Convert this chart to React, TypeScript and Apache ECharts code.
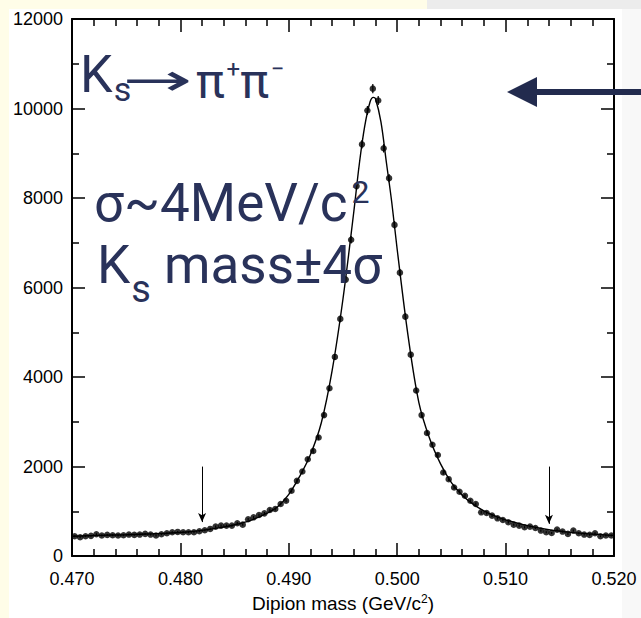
import React, { useEffect, useRef } from 'react';
import * as echarts from 'echarts';

// Histogram bin centres (GeV/c^2)
const massBins = [
  0.47025, 0.47075, 0.47125, 0.47175, 0.47225, 0.47275, 0.47325, 0.47375, 0.47425, 0.47475,
  0.47525, 0.47575, 0.47625, 0.47675, 0.47725, 0.47775, 0.47825, 0.47875, 0.47925, 0.47975,
  0.48025, 0.48075, 0.48125, 0.48175, 0.48225, 0.48275, 0.48325, 0.48375, 0.48425, 0.48475,
  0.48525, 0.48575, 0.48625, 0.48675, 0.48725, 0.48775, 0.48825, 0.48875, 0.48925, 0.48975,
  0.49025, 0.49075, 0.49125, 0.49175, 0.49225, 0.49275, 0.49325, 0.49375, 0.49425, 0.49475,
  0.49525, 0.49575, 0.49625, 0.49675, 0.49725, 0.49775, 0.49825, 0.49875, 0.49925, 0.49975,
  0.50025, 0.50075, 0.50125, 0.50175, 0.50225, 0.50275, 0.50325, 0.50375, 0.50425, 0.50475,
  0.50525, 0.50575, 0.50625, 0.50675, 0.50725, 0.50775, 0.50825, 0.50875, 0.50925, 0.50975,
  0.51025, 0.51075, 0.51125, 0.51175, 0.51225, 0.51275, 0.51325, 0.51375, 0.51425, 0.51475,
  0.51525, 0.51575, 0.51625, 0.51675, 0.51725, 0.51775, 0.51825, 0.51875, 0.51925, 0.51975,
];

// Entries per bin
const counts = [
  444, 422, 444, 452, 489, 459, 474, 467, 459, 467,
  481, 474, 481, 496, 481, 459, 489, 511, 533, 540,
  533, 533, 533, 555, 578, 607, 659, 681, 681, 681,
  733, 703, 822, 866, 918, 955, 1029, 1052, 1163, 1237,
  1459, 1681, 1889, 2163, 2348, 2650, 3150, 3750, 4450, 5300,
  6178, 7067, 8267, 9200, 9956, 10444, 10178, 9111, 8444, 7400,
  6333, 5350, 4500, 3700, 3150, 2750, 2489, 2259, 1867, 1719,
  1533, 1437, 1348, 1237, 1163, 978, 963, 904, 844, 807,
  755, 703, 681, 644, 659, 629, 570, 533, 518, 592,
  548, 496, 570, 511, 481, 474, 511, 444, 459, 459,
];

// Fit curve
const fitMass = [
  0.470, 0.4725, 0.475, 0.4775, 0.480, 0.482, 0.4835, 0.485, 0.4865, 0.488,
  0.489, 0.490, 0.491, 0.492, 0.493, 0.494, 0.495, 0.496, 0.4965, 0.497,
  0.4975, 0.4978, 0.498, 0.4985, 0.499, 0.4995, 0.500, 0.501, 0.502, 0.503,
  0.504, 0.505, 0.506, 0.507, 0.508, 0.509, 0.510, 0.512, 0.514, 0.516,
  0.518, 0.520,
];
const fitCounts = [
  445, 462, 478, 498, 528, 575, 630, 700, 800, 960,
  1110, 1380, 1780, 2270, 2980, 4150, 5750, 7700, 8750, 9600,
  10150, 10250, 10220, 9700, 8800, 7900, 6850, 4925, 3430, 2620,
  2060, 1640, 1360, 1160, 1010, 900, 810, 680, 590, 530,
  490, 462,
];

// Mass window (K_s mass ± 4σ) marker arrows
const windowMass = [0.482, 0.514];
const windowArrowTop = 2000;
const windowArrowTip = [760, 720];

// Axis ticks
const xMin = 0.47;
const xMax = 0.52;
const xStep = 0.01;
const yMin = 0;
const yMax = 12000;
const yStep = 2000;

const NAVY = '#29325a';
const AXIS_FONT = '"Liberation Sans", Arial, Helvetica, sans-serif';
const NOTE_FONT = 'Roboto, "DejaVu Sans", sans-serif';

function richNote(text: string, x: number, y: number, rich: any, extra: any = {}) {
  return {
    type: 'text',
    x,
    y,
    z: 100,
    ...extra,
    style: {
      text,
      fontFamily: NOTE_FONT,
      fill: NAVY,
      align: 'left',
      verticalAlign: 'top',
      rich,
    },
  };
}

function buildOption() {
  const tickStyle = { color: '#000', width: 1.5 };
  const baseX = {
    type: 'value' as const,
    min: xMin,
    max: xMax,
    interval: xStep,
    splitLine: { show: false },
    axisLine: { show: true, onZero: false, lineStyle: { color: '#000', width: 2 } },
    axisTick: { show: true, inside: true, length: 13, lineStyle: tickStyle },
    minorTick: { show: true, splitNumber: 5, length: 7, lineStyle: tickStyle },
    minorSplitLine: { show: false },
  };
  const baseY = {
    type: 'value' as const,
    min: yMin,
    max: yMax,
    interval: yStep,
    splitLine: { show: false },
    axisLine: { show: true, onZero: false, lineStyle: { color: '#000', width: 2 } },
    axisTick: { show: true, inside: true, length: 13, lineStyle: tickStyle },
    minorTick: { show: true, splitNumber: 2, length: 7, lineStyle: tickStyle },
    minorSplitLine: { show: false },
  };

  const tok = (fontSize: number, padTop = 0, padLeft = 0) => ({
    fontSize,
    lineHeight: fontSize,
    fontFamily: NOTE_FONT,
    color: NAVY,
    verticalAlign: 'top',
    padding: [padTop, 0, 0, padLeft],
  });

  return {
    animation: false,
    backgroundColor: '#fffde8',
    grid: { left: 72, right: 27, top: 19, bottom: 59, containLabel: false },
    xAxis: [
      {
        ...baseX,
        position: 'bottom',
        axisLabel: {
          show: true,
          margin: 14,
          fontSize: 18,
          fontFamily: AXIS_FONT,
          color: '#000',
          formatter: (v: number) => v.toFixed(3),
        },
        name: 'Dipion mass (GeV/c{sup|2})',
        nameLocation: 'middle',
        nameGap: 35,
        nameTextStyle: {
          fontSize: 19,
          fontFamily: AXIS_FONT,
          color: '#000',
          rich: {
            sup: { fontSize: 12, fontFamily: AXIS_FONT, color: '#000', verticalAlign: 'top', padding: [0, 0, 9, 0] },
          },
        },
      },
      { ...baseX, position: 'top', axisLabel: { show: false } },
    ],
    yAxis: [
      {
        ...baseY,
        position: 'left',
        axisLabel: {
          show: true,
          margin: 9,
          fontSize: 18,
          fontFamily: AXIS_FONT,
          color: '#000',
          formatter: (v: number) => String(v),
        },
      },
      { ...baseY, position: 'right', axisLabel: { show: false } },
    ],
    graphic: [
      // slide background pieces
      { type: 'rect', z: -100, shape: { x: 9, y: 9, width: 613, height: 609 }, style: { fill: '#ffffff' } },
      { type: 'rect', z: -100, shape: { x: 427, y: 0, width: 214, height: 9 }, style: { fill: '#ececec' } },
      { type: 'rect', z: -100, shape: { x: 622, y: 9, width: 19, height: 609 }, style: { fill: '#f8f8f8' } },
      // big arrow
      { type: 'rect', z: 100, shape: { x: 534, y: 89, width: 107, height: 6 }, style: { fill: '#222b4e' } },
      { type: 'polygon', z: 100, shape: { points: [[507, 92], [537, 77], [537, 107]] }, style: { fill: '#222b4e' } },
      // K_s -> pi+ pi-
      richNote('{b|K}{s|s}', 80, 48, { b: tok(52), s: tok(34, 24, 1) }),
      {
        type: 'text',
        x: 122,
        y: 80,
        z: 100,
        scaleX: 1.9,
        style: {
          text: '→',
          fontSize: 44,
          fontFamily: '"DejaVu Sans", sans-serif',
          fill: NAVY,
          align: 'left',
          verticalAlign: 'middle',
        },
      },
      richNote('{p|π}{u|+}{p|π}{u|−}', 196, 57, { p: tok(48), u: tok(24, 0, 2) }),
      // sigma line
      richNote('{b|σ~4MeV/c}{u|2}', 94, 176, { b: tok(53), u: tok(32, 0, 4) }),
      // mass window line
      richNote('{b|K}{s|s}{b| mass±4σ}', 97, 238, { b: tok(53), s: tok(38, 32, 1) }),
    ],
    series: [
      {
        name: 'fit',
        type: 'line',
        xAxisIndex: 0,
        yAxisIndex: 0,
        data: fitMass.map((m, i) => [m, fitCounts[i]]),
        smooth: 0.35,
        showSymbol: false,
        symbol: 'none',
        lineStyle: { color: '#000', width: 1.4 },
        z: 2,
      },
      {
        name: 'errors',
        type: 'custom',
        xAxisIndex: 0,
        yAxisIndex: 0,
        data: massBins.map((m, i) => [m, counts[i], Math.sqrt(counts[i])]),
        encode: { x: 0, y: 1 },
        renderItem: (params: any, api: any) => {
          const x = api.value(0);
          const v = api.value(1);
          const e = api.value(2);
          const p1 = api.coord([x, v + e]);
          const p2 = api.coord([x, v - e]);
          return {
            type: 'line',
            shape: { x1: p1[0], y1: p1[1], x2: p2[0], y2: p2[1] },
            style: { stroke: '#000', lineWidth: 1.2 },
          };
        },
        z: 3,
      },
      {
        name: 'data',
        type: 'scatter',
        xAxisIndex: 0,
        yAxisIndex: 0,
        data: massBins.map((m, i) => [m, counts[i]]),
        symbol: 'circle',
        symbolSize: 6.5,
        itemStyle: { color: '#000' },
        z: 4,
        markLine: {
          silent: true,
          symbol: ['none', 'arrow'],
          symbolSize: [6, 9],
          label: { show: false },
          lineStyle: { color: '#000', width: 1, type: 'solid' },
          data: windowMass.map((m, i) => [
            { coord: [m, windowArrowTop] },
            { coord: [m, windowArrowTip[i]] },
          ]),
        },
      },
    ],
  };
}

export default function App() {
  const ref = useRef<HTMLDivElement>(null);
  useEffect(() => {
    document.body.style.margin = '0';
    const chart = echarts.init(ref.current as HTMLDivElement, null, { renderer: 'svg' });
    chart.setOption(buildOption() as any);
    return () => chart.dispose();
  }, []);
  return (
    <div
      ref={ref}
      style={{ position: 'absolute', left: 0, top: 0, width: 641, height: 618 }}
    />
  );
}
